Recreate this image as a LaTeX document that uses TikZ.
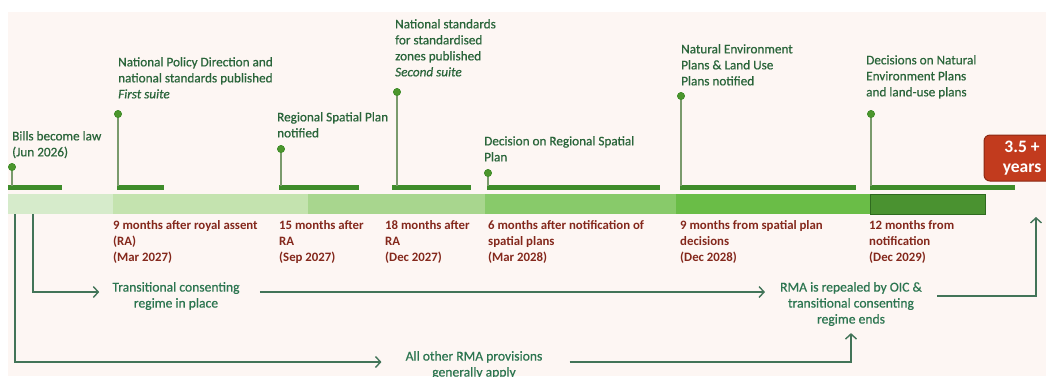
\documentclass[tikz,border=0pt]{standalone}
\usepackage{fontspec}
\setmainfont{Carlito}
\newfontfamily\labelfont{Carlito}[FakeBold=0.6]
\usetikzlibrary{arrows.meta}

\definecolor{paper}{HTML}{FDF6F3}
\definecolor{segA}{HTML}{D6EBCB}
\definecolor{segB}{HTML}{C4E3AF}
\definecolor{segC}{HTML}{A8D68E}
\definecolor{segD}{HTML}{88CA6A}
\definecolor{segE}{HTML}{6ABD47}
\definecolor{segF}{HTML}{4A9230}
\definecolor{segFedge}{HTML}{2F6A1F}
\definecolor{tickgreen}{HTML}{3E8C2A}
\definecolor{stemgrey}{HTML}{7A9A6C}
\definecolor{dotgreen}{HTML}{4C962C}
\definecolor{labelgreen}{HTML}{2A653A}
\definecolor{datered}{HTML}{84281C}
\definecolor{flowgreen}{HTML}{2C7550}
\definecolor{flowline}{HTML}{427458}
\definecolor{boxred}{HTML}{C23B1E}
\definecolor{boxedge}{HTML}{8C2A14}

\tikzset{
  toplbl/.style={anchor=north west, inner sep=0pt, align=left,
    text=labelgreen, font=\labelfont\fontsize{13.2}{16}\selectfont},
  datelbl/.style={anchor=north west, inner sep=0pt, align=left,
    text=datered, font=\bfseries\fontsize{12.8}{16}\selectfont},
  flowlbl/.style={inner sep=0pt, align=center,
    text=flowgreen, font=\labelfont\fontsize{13.6}{16}\selectfont},
  pindot/.style={circle, fill=dotgreen, draw=tickgreen, line width=0.6pt,
    minimum size=7pt, inner sep=0pt},
  stem/.style={draw=stemgrey, line width=1.5pt},
  tickbar/.style={fill=tickgreen},
  flow/.style={draw=flowline, line width=1.6pt,
    -{Straight Barb[length=5pt,width=11pt,line width=1.4pt]}},
  yearsbox/.style={draw=boxedge, fill=boxred, line width=1pt,
    rounded corners=6pt, minimum width=76pt, minimum height=46pt,
    inner sep=0pt, align=center, text=white,
    font=\bfseries\fontsize{17.5}{20}\selectfont}
}

\begin{document}
\begin{tikzpicture}[x=1pt,y=-1pt]
\useasboundingbox (0,0) rectangle (1046,376);
\fill[white] (0,0) rectangle (1046,376);
\fill[paper] (8,12) rectangle (1046,376);

% main timeline bar, one shade per phase
\fill[segA] (8,194) rectangle (113,214);
\fill[segB] (113,194) rectangle (308,214);
\fill[segC] (308,194) rectangle (485,214);
\fill[segD] (485,194) rectangle (676,214);
\fill[segE] (676,194) rectangle (870,214);
\fill[segF, draw=segFedge, line width=0.8pt] (870,194) rectangle (985,214);

% short milestone bars above the main bar
\fill[tickbar] (8,185) rectangle (62,190);
\fill[tickbar] (117,185) rectangle (164,190);
\fill[tickbar] (279,185) rectangle (359,190);
\fill[tickbar] (392,185) rectangle (471,190);
\fill[tickbar] (487,185) rectangle (660,190);
\fill[tickbar] (680,185) rectangle (856,190);
\fill[tickbar] (870,185) rectangle (1015,190);

% milestone pins
\coordinate (b1) at (12,186);
\coordinate (b2) at (118,186);
\coordinate (b3) at (281,186);
\coordinate (b4) at (397,186);
\coordinate (b5) at (488,186);
\coordinate (b6) at (681,186);
\coordinate (b7) at (871,186);
\node[pindot] (d1) at (12,167) {};
\node[pindot] (d2) at (118,114) {};
\node[pindot] (d3) at (281,149) {};
\node[pindot] (d4) at (397,92) {};
\node[pindot] (d5) at (488,173) {};
\node[pindot] (d6) at (681,96) {};
\node[pindot] (d7) at (871,114) {};
\foreach \i in {1,...,7} \draw[stem] (d\i) -- (b\i);
\foreach \i in {1,...,7} \node[pindot] at (d\i) {};

% milestone labels
\node[toplbl] (t1) at (12,131) {Bills become law\\(Jun 2026)};
\node[toplbl] (t2) at (118,57) {National Policy Direction and\\national standards published\\\textit{First suite}};
\node[toplbl] (t3) at (277,112) {Regional Spatial Plan\\notified};
\node[toplbl] (t4) at (395,19) {National standards\\for standardised\\zones published\\\textit{Second suite}};
\node[toplbl] (t5) at (484,136) {Decision on Regional Spatial\\Plan};
\node[toplbl] (t6) at (681,44) {Natural Environment\\Plans \& Land Use\\Plans notified};
\node[toplbl] (t7) at (866,55) {Decisions on Natural\\Environment Plans\\and land-use plans};

% timing labels under the bar
\node[datelbl] (m1) at (113,220) {9 months after royal assent\\(RA)\\(Mar 2027)};
\node[datelbl] (m2) at (279,220) {15 months after\\RA\\(Sep 2027)};
\node[datelbl] (m3) at (385,220) {18 months after\\RA\\(Dec 2027)};
\node[datelbl] (m4) at (488,220) {6 months after notification of\\spatial plans\\(Mar 2028)};
\node[datelbl] (m5) at (680,220) {9 months from spatial plan\\decisions\\(Dec 2028)};
\node[datelbl] (m6) at (869,220) {12 months from\\notification\\(Dec 2029)};

% overall duration
\node[yearsbox] (yrs) at (1022,158) {3.5 +\\years};

% consenting regime flow
\node[flowlbl] (f1) at (176,296) {Transitional consenting\\regime in place};
\node[flowlbl] (f2) at (851,304) {RMA is repealed by OIC \&\\transitional consenting\\regime ends};
\node[flowlbl] (f3) at (474,365) {All other RMA provisions\\generally apply};

\coordinate (s1) at (15,214);
\coordinate (s2) at (33,214);
\coordinate (e1) at (1036,217);

\draw[flow, shorten >=13pt] (s2) |- ([yshift=4pt]f1.west);
\draw[flow, shorten <=20pt, shorten >=15pt] ([yshift=4pt]f1.east) -- ([yshift=4pt]f1.east -| f2.west);
\draw[flow, shorten <=15pt] ([yshift=8pt]f2.east) -| (e1);
\draw[flow, shorten >=24pt] (s1) |- ([yshift=3pt]f3.west);
\draw[flow, shorten <=27pt, shorten >=7pt] ([yshift=3pt]f3.east) -| (f2.south);
\end{tikzpicture}
\end{document}
